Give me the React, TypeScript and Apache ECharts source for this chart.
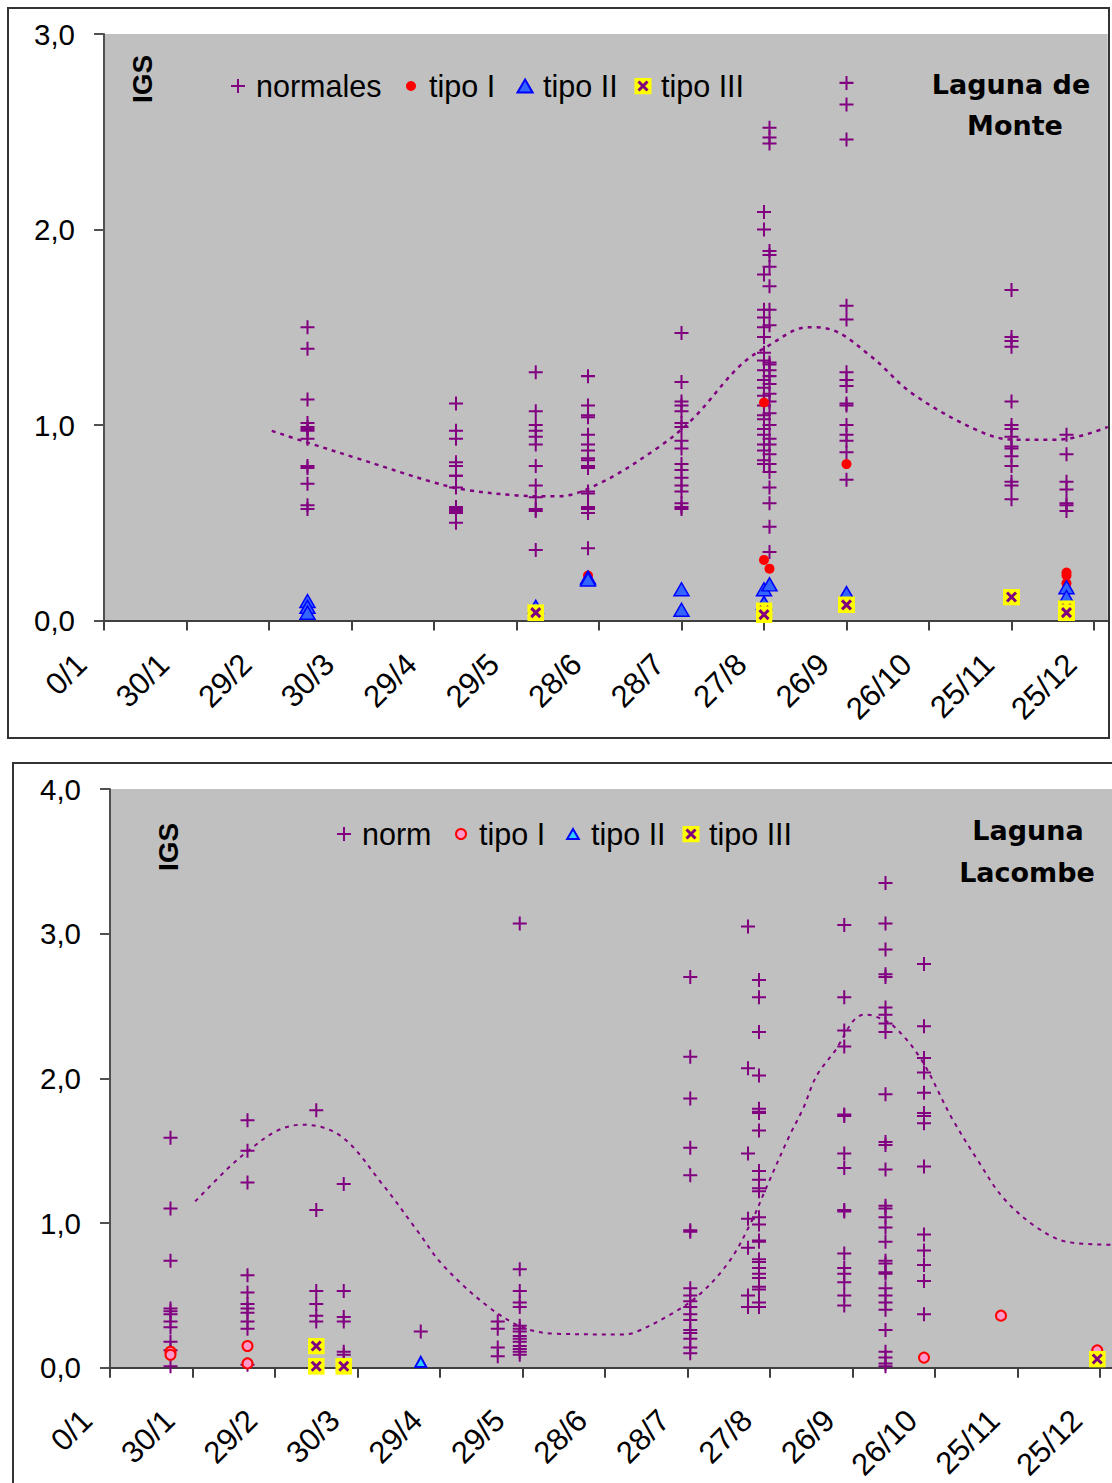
import React, { useEffect, useRef } from 'react';
import * as echarts from 'echarts';

// ---------- shared axis ticks ----------
const tickDays = [0, 30, 60, 90, 120, 150, 180, 210, 240, 270, 300, 330, 360];
const tickLabels = ['0/1', '30/1', '29/2', '30/3', '29/4', '29/5', '28/6', '28/7', '27/8', '26/9', '26/10', '25/11', '25/12'];

// ---------- Laguna de Monte ----------
const monteNormales: [number, number[]][] = [
  [74, [1.5, 1.39, 1.13, 1.01, 0.99, 0.98, 0.97, 0.93, 0.79, 0.78, 0.7, 0.59, 0.57]],
  [128, [1.11, 0.97, 0.93, 0.81, 0.79, 0.74, 0.74, 0.68, 0.58, 0.57, 0.56, 0.55, 0.5]],
  [157, [1.27, 1.07, 1.0, 0.97, 0.94, 0.9, 0.79, 0.69, 0.63, 0.57, 0.56, 0.36]],
  [176, [1.25, 1.1, 1.05, 1.04, 0.95, 0.9, 0.87, 0.83, 0.82, 0.79, 0.78, 0.66, 0.65, 0.58, 0.57, 0.55, 0.37]],
  [210, [1.47, 1.22, 1.12, 1.1, 1.07, 1.01, 0.99, 0.92, 0.88, 0.8, 0.77, 0.73, 0.69, 0.66, 0.6, 0.58, 0.57]],
  [240, [2.09, 2.0, 1.77, 1.59, 1.55, 1.5, 1.45, 1.37, 1.33, 1.28, 1.23, 1.19, 1.15, 1.1, 1.05, 1.03, 0.98, 0.95, 0.9, 0.87, 0.82, 0.8]],
  [242, [2.52, 2.47, 2.44, 1.89, 1.87, 1.81, 1.71, 1.59, 1.51, 1.32, 1.31, 1.28, 1.25, 1.21, 1.16, 1.12, 1.06, 1.0, 0.93, 0.9, 0.85, 0.8, 0.76, 0.68, 0.6, 0.48, 0.35]],
  [270, [2.75, 2.64, 2.46, 1.61, 1.54, 1.27, 1.23, 1.2, 1.11, 1.1, 1.0, 0.95, 0.92, 0.86, 0.72]],
  [330, [1.69, 1.45, 1.43, 1.4, 1.12, 1.0, 0.98, 0.94, 0.89, 0.88, 0.84, 0.79, 0.71, 0.69, 0.62]],
  [350, [0.95, 0.85, 0.71, 0.67, 0.6, 0.59, 0.56]],
];
const monteTipoI: [number, number][] = [[176, 0.23], [240, 1.115], [240, 0.31], [242, 0.265], [270, 0.8], [350, 0.245], [350, 0.23], [350, 0.19]];
const monteTipoII: [number, number][] = [[74, 0.1], [74, 0.07], [74, 0.04], [157, 0.07], [176, 0.22], [176, 0.21], [210, 0.16], [210, 0.055], [240, 0.16], [242, 0.185], [240, 0.09], [270, 0.14], [350, 0.17], [350, 0.12]];
const monteTipoIII: [number, number][] = [[157, 0.04], [240, 0.05], [240, 0.03], [270, 0.08], [330, 0.12], [350, 0.06], [350, 0.04]];
const monteTrend: [number, number][] = [[61, 0.97], [74, 0.91], [92, 0.83], [119, 0.71], [131, 0.67], [150, 0.64], [165, 0.635], [180, 0.7], [201, 0.88], [214, 1.03], [231, 1.3], [241, 1.4], [256, 1.5], [264, 1.49], [279, 1.35], [294, 1.16], [318, 0.97], [331, 0.925], [347, 0.925], [365, 0.99]];

// ---------- Laguna Lacombe ----------
const lacombeNorm: [number, number[]][] = [
  [22, [1.59, 1.1, 0.74, 0.41, 0.39, 0.37, 0.32, 0.28, 0.18, 0.12, 0.01]],
  [50, [1.71, 1.5, 1.28, 0.64, 0.52, 0.44, 0.41, 0.38, 0.32, 0.27, 0.02]],
  [75, [1.78, 1.09, 0.53, 0.44, 0.36, 0.32]],
  [85, [1.27, 0.53, 0.35, 0.32, 0.11, 0.09]],
  [113, [0.25]],
  [141, [0.32, 0.27, 0.14, 0.08]],
  [149, [3.07, 0.68, 0.53, 0.45, 0.42, 0.29, 0.27, 0.25, 0.22, 0.2, 0.18, 0.15, 0.13, 0.11, 0.09]],
  [211, [2.7, 2.15, 1.86, 1.52, 1.33, 0.95, 0.94, 0.55, 0.5, 0.46, 0.42, 0.37, 0.33, 0.26, 0.24, 0.2, 0.14, 0.1]],
  [232, [3.05, 2.07, 1.48, 1.03, 0.83, 0.5, 0.42]],
  [236, [2.68, 2.56, 2.32, 2.02, 1.79, 1.77, 1.76, 1.64, 1.36, 1.3, 1.24, 1.22, 1.04, 0.99, 0.88, 0.87, 0.75, 0.73, 0.69, 0.65, 0.62, 0.56, 0.54, 0.45, 0.42]],
  [267, [3.06, 2.56, 2.33, 2.22, 1.75, 1.74, 1.48, 1.38, 1.09, 1.08, 0.79, 0.69, 0.65, 0.59, 0.5, 0.43]],
  [282, [3.35, 3.07, 2.89, 2.72, 2.7, 2.49, 2.44, 2.38, 2.32, 1.89, 1.56, 1.54, 1.37, 1.12, 1.1, 1.04, 0.97, 0.87, 0.74, 0.72, 0.66, 0.65, 0.55, 0.5, 0.45, 0.4, 0.26, 0.11, 0.07, 0.03, 0.01]],
  [296, [2.79, 2.36, 2.14, 2.04, 1.9, 1.76, 1.74, 1.69, 1.39, 0.92, 0.81, 0.71, 0.6, 0.37]],
];
const lacombeTipoI: [number, number][] = [[22, 0.11], [22, 0.09], [50, 0.15], [50, 0.03], [296, 0.07], [324, 0.36], [359, 0.12]];
const lacombeTipoII: [number, number][] = [[113, 0.04]];
const lacombeTipoIII: [number, number][] = [[75, 0.15], [75, 0.01], [85, 0.01], [359, 0.06]];
const lacombeTrend: [number, number][] = [[31, 1.15], [43, 1.38], [51, 1.51], [61, 1.64], [70, 1.68], [84, 1.6], [99, 1.27], [112, 0.94], [121, 0.71], [137, 0.43], [150, 0.28], [162, 0.235], [186, 0.23], [191, 0.245], [204, 0.37], [214, 0.5], [225, 0.73], [233, 1.0], [239, 1.26], [247, 1.6], [252, 1.79], [257, 2.02], [264, 2.2], [270, 2.39], [274, 2.44], [278, 2.43], [285, 2.36], [295, 2.13], [306, 1.73], [316, 1.42], [325, 1.17], [337, 0.97], [348, 0.87], [365, 0.85]];

// ---------- symbols ----------
const PURPLE = '#800080';
const PLUS = 'path://M6,0H8V6H14V8H8V14H6V8H0V6H6Z';
const TRI = 'path://M7,0L14,12L0,12Z';
const boxSvg =
  '<svg xmlns="http://www.w3.org/2000/svg" width="17" height="17" viewBox="0 0 17 17">' +
  '<rect width="17" height="17" fill="#ffff00"/>' +
  '<path d="M4 4L13 13M13 4L4 13" stroke="#800080" stroke-width="3"/></svg>';
const BOX = 'image://data:image/svg+xml;base64,' + btoa(boxSvg);

const FONT = 'Liberation Sans';

function expand(cols: [number, number[]][]) {
  return cols.flatMap(([d, vs]) => vs.map((v) => [d, v]));
}

interface Cfg {
  gridLeft: number;
  gridTop: number;
  gridHeight: number;
  yMax: number;
  names: string[];
  normCols: [number, number[]][];
  tipoI: [number, number][];
  tipoII: [number, number][];
  tipoIII: [number, number][];
  trend: [number, number][];
  tipoIStyle: any;
  tipoISize: number;
  tipoIIStyle: any;
  tipoIISize: number[];
  legendY: number;
  legendX: number[];
  legendH: number[];
  legendW: number[];
  border: { x: number; y: number; w: number; h: number };
  igs: { x: number; y: number };
  titles: { text: string; x: number; y: number }[];
  trendWidth: number;
  xLabelMargin: number;
  xLabelPad: number;
}

function makeOption(c: Cfg): any {
  const legendText = { fontSize: 30.5, fontFamily: FONT, color: '#000' };
  const icons = [PLUS, 'circle', TRI, BOX];
  return {
    animation: false,
    backgroundColor: '#ffffff',
    grid: {
      left: c.gridLeft,
      top: c.gridTop,
      width: 365 * 2.75,
      height: c.gridHeight,
      show: true,
      backgroundColor: '#c0c0c0',
      borderWidth: 0,
    },
    xAxis: {
      type: 'value',
      min: 0,
      max: 365,
      interval: 30,
      splitLine: { show: false },
      axisLine: { show: true, onZero: false, lineStyle: { color: '#404040', width: 2 } },
      axisTick: { show: true, length: 10, customValues: tickDays, lineStyle: { color: '#404040', width: 2 } },
      axisLabel: {
        customValues: tickDays,
        rotate: 45,
        margin: c.xLabelMargin,
        padding: [0, c.xLabelPad, 0, 0],
        fontSize: 31,
        fontFamily: FONT,
        color: '#000',
        formatter: (v: number) => {
          const i = tickDays.indexOf(v);
          return i >= 0 ? tickLabels[i] : '';
        },
      },
    },
    yAxis: {
      type: 'value',
      min: 0,
      max: c.yMax,
      interval: 1,
      splitLine: { show: false },
      axisLine: { show: true, lineStyle: { color: '#505050', width: 2 } },
      axisTick: { show: true, length: 10, lineStyle: { color: '#505050', width: 2 } },
      axisLabel: {
        margin: 29,
        fontSize: 29.5,
        fontFamily: FONT,
        color: '#000',
        formatter: (v: number) => v.toFixed(1).replace('.', ','),
      },
    },
    legend: c.names.map((n, i) => ({
      data: [{ name: n, icon: icons[i] }],
      left: c.legendX[i] - c.legendW[i] / 2,
      top: c.legendY - 15.5,
      padding: 0,
      itemWidth: 26,
      itemHeight: c.legendH[i],
      symbolKeepAspect: true,
      selectedMode: false,
      textStyle: legendText,
    })),
    series: [
      {
        name: c.names[0],
        type: 'scatter',
        symbol: PLUS,
        symbolSize: 14,
        itemStyle: { color: PURPLE, opacity: 1 },
        data: expand(c.normCols),
        z: 2,
      },
      {
        name: c.names[1],
        type: 'scatter',
        symbol: 'circle',
        symbolSize: c.tipoISize,
        itemStyle: { opacity: 1, ...c.tipoIStyle },
        data: c.tipoI,
        z: 3,
      },
      {
        name: c.names[2],
        type: 'scatter',
        symbol: TRI,
        symbolSize: c.tipoIISize,
        itemStyle: { opacity: 1, ...c.tipoIIStyle },
        data: c.tipoII,
        z: 4,
      },
      {
        name: c.names[3],
        type: 'scatter',
        symbol: BOX,
        symbolSize: 17,
        itemStyle: { color: '#ffff00', opacity: 1 },
        data: c.tipoIII,
        z: 5,
      },
      {
        name: 'tendencia',
        type: 'line',
        data: c.trend,
        smooth: 0.35,
        showSymbol: false,
        symbol: 'none',
        silent: true,
        lineStyle: { color: PURPLE, width: c.trendWidth, type: [4, 5] },
        z: 6,
      },
    ],
    graphic: [
      {
        type: 'rect',
        shape: { x: c.border.x, y: c.border.y, width: c.border.w, height: c.border.h },
        style: { fill: 'none', stroke: '#333333', lineWidth: 2 },
        silent: true,
        z: 10,
      },
      {
        type: 'text',
        x: c.igs.x,
        y: c.igs.y,
        rotation: Math.PI / 2,
        style: {
          text: 'IGS',
          fontSize: 28,
          fontWeight: 'bold',
          fontFamily: FONT,
          fill: '#000',
          textAlign: 'center',
          textVerticalAlign: 'middle',
        },
        z: 10,
      },
      ...c.titles.map((t) => ({
        type: 'text',
        x: t.x,
        y: t.y,
        style: {
          text: t.text,
          fontSize: 27,
          fontWeight: 'bold',
          fontFamily: 'DejaVu Sans',
          fill: '#000',
          textAlign: 'center',
          textVerticalAlign: 'middle',
        },
        z: 10,
      })),
    ],
  };
}

const monteCfg: Cfg = {
  gridLeft: 104,
  gridTop: 34,
  gridHeight: 586.5,
  yMax: 3,
  names: ['normales', 'tipo I', 'tipo II', 'tipo III'],
  normCols: monteNormales,
  tipoI: monteTipoI,
  tipoII: monteTipoII,
  tipoIII: monteTipoIII,
  trend: monteTrend,
  tipoIStyle: { color: '#ff0000' },
  tipoISize: 10,
  tipoIIStyle: { color: '#3366ff', borderColor: '#0000ff', borderWidth: 1.5 },
  tipoIISize: [15, 13],
  legendY: 86,
  legendX: [238, 411, 524, 643],
  legendH: [14, 10, 13, 17],
  legendW: [14, 10, 15, 26],
  border: { x: 8, y: 8, w: 1101, h: 730 },
  igs: { x: 142, y: 79 },
  titles: [
    { text: 'Laguna de', x: 1011, y: 84 },
    { text: 'Monte', x: 1015, y: 125 },
  ],
  trendWidth: 2.5,
  xLabelMargin: 16,
  xLabelPad: 32,
};

const OFF2 = 745;
const lacombeCfg: Cfg = {
  gridLeft: 110,
  gridTop: 789 - OFF2,
  gridHeight: 580,
  yMax: 4,
  names: ['norm', 'tipo I', 'tipo II', 'tipo III'],
  normCols: lacombeNorm,
  tipoI: lacombeTipoI,
  tipoII: lacombeTipoII,
  tipoIII: lacombeTipoIII,
  trend: lacombeTrend,
  tipoIStyle: { color: '#ff99cc', borderColor: '#ff0000', borderWidth: 2 },
  tipoISize: 10,
  tipoIIStyle: { color: '#33ccff', borderColor: '#0000ff', borderWidth: 2 },
  tipoIISize: [11, 10],
  legendY: 834 - OFF2,
  legendX: [344, 460, 572, 691],
  legendH: [14, 10, 10, 17],
  legendW: [14, 10, 11.7, 26],
  border: { x: 13, y: 763 - OFF2, w: 1300, h: 900 },
  igs: { x: 168, y: 847 - OFF2 },
  titles: [
    { text: 'Laguna', x: 1028, y: 830 - OFF2 },
    { text: 'Lacombe', x: 1027, y: 872 - OFF2 },
  ],
  trendWidth: 2,
  xLabelMargin: 24,
  xLabelPad: 33,
};

export default function App() {
  const ref1 = useRef<HTMLDivElement>(null);
  const ref2 = useRef<HTMLDivElement>(null);
  useEffect(() => {
    const c1 = echarts.init(ref1.current!, undefined, { renderer: 'svg' });
    const c2 = echarts.init(ref2.current!, undefined, { renderer: 'svg' });
    c1.setOption(makeOption(monteCfg));
    c2.setOption(makeOption(lacombeCfg));
    return () => {
      c1.dispose();
      c2.dispose();
    };
  }, []);
  return (
    <div style={{ position: 'fixed', left: 0, top: 0, width: 1112, height: 1483, overflow: 'hidden', background: '#fff' }}>
      <div ref={ref1} style={{ position: 'absolute', left: 0, top: 0, width: 1112, height: OFF2 }} />
      <div ref={ref2} style={{ position: 'absolute', left: 0, top: OFF2, width: 1140, height: 1483 - OFF2 }} />
    </div>
  );
}
